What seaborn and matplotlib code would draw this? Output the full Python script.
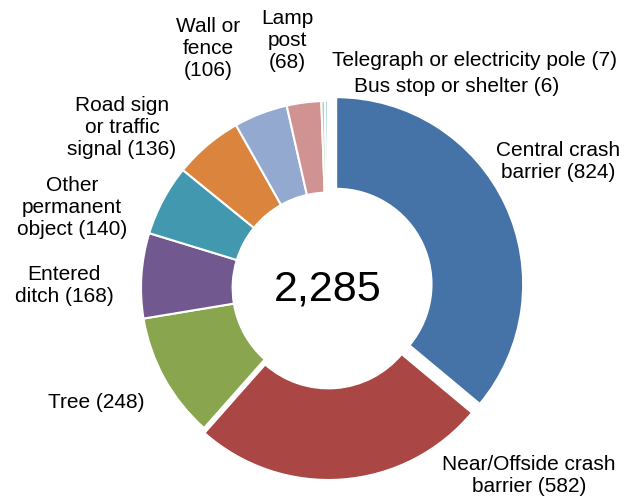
import matplotlib
matplotlib.use("Agg")
import matplotlib.pyplot as plt
import seaborn as sns

# -------------------------------
# Data
# -------------------------------
categories = ["Central crash\nbarrier", "Near/Offside crash\nbarrier", "Tree",
              "Entered\nditch", "Other\npermanent\nobject", "Road sign\nor traffic\nsignal",
              "Wall or\nfence\n", "Lamp\npost\n", "Telegraph or electricity pole",
              "Bus stop or shelter"]
counts = [824, 582, 248, 168, 140, 136, 106, 68, 7, 6]
colors = ["#4572A7", "#AA4643", "#89A54E", "#71588F", "#4198AF",
          "#DB843D", "#93A9CF", "#D19392", "#B9CD96", "#A9D2E4"]

# label anchor points (pixels from top-left)
label_pos = [(558, 161), (529, 475), (96, 403), (64, 285), (72, 207),
             (122, 127), (208, 48), (287, 40), (475, 60), (457, 86)]

total = sum(counts)

# -------------------------------
# Figure
# -------------------------------
sns.set_style("white")
plt.rcParams['font.family'] = ['Liberation Sans', 'DejaVu Sans']

W, H = 624, 499
fig = plt.figure(figsize=(W / 100, H / 100), dpi=100)
ax = fig.add_axes([0, 0, 1, 1])

cx, cy, R = 328, H - 288, 187
# explode is in data units (pixels here)
explode = [9, 5, 0, 0, 0, 0, 0, 0, 0, 0]
ax.pie(counts, colors=colors, explode=explode, startangle=90, counterclock=False,
       center=(cx, cy), radius=R, frame=True,
       wedgeprops=dict(width=R * 0.49, edgecolor='white', linewidth=1.5))
ax.set_xlim(0, W)
ax.set_ylim(0, H)
ax.set_aspect('equal')
ax.axis('off')

ax.text(cx, cy - 2, f"{total:,}", ha='center', va='center', fontsize=31, color='black')

for name, n, (x, y) in zip(categories, counts, label_pos):
    sep = "" if name.endswith("\n") else " "
    ax.text(x, H - y, f"{name}{sep}({n})", ha='center', va='center',
            fontsize=15, linespacing=1.2, color='black')

fig.savefig("out.png", dpi=100)
plt.close()
